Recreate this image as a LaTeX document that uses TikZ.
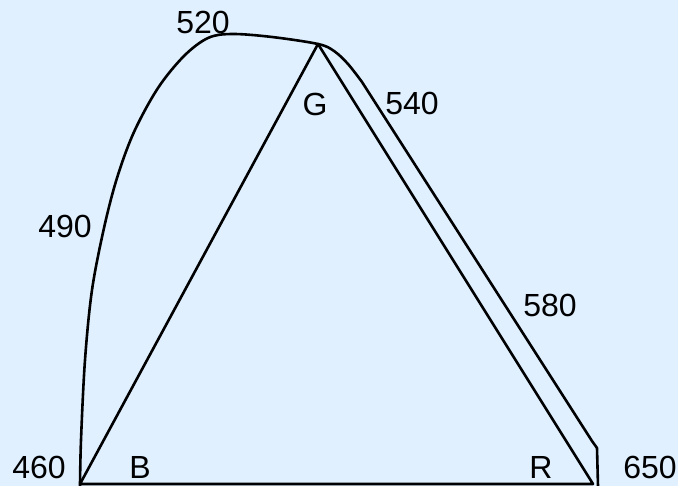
\documentclass[tikz,border=0pt]{standalone}
\usepackage{fontspec}
\setmainfont{Liberation Sans}
\definecolor{skybg}{RGB}{224, 240, 255}
\usetikzlibrary{positioning}

\begin{document}
\begin{tikzpicture}[
    x=1pt, y=-1pt,
    edge/.style={line width=2.6pt, black, line join=round},
    lbl/.style={font=\fontsize{32}{34}\selectfont, inner sep=0pt},
  ]
  \fill[skybg] (0,0) rectangle (678,486);
  \useasboundingbox (0,0) rectangle (678,486);

  % primaries
  \coordinate (B) at (80,484);
  \coordinate (G) at (318,44);
  \coordinate (R) at (593,484);
  \coordinate (w460) at (80,486);
  \coordinate (w620) at (592,441);
  \coordinate (w650) at (598,486);

  \draw[edge] (B) -- (G) -- (R) -- (B);

  % spectral locus
  \draw[edge] plot[smooth, tension=0.55] coordinates {
      (w460) (81,440) (85,360) (92,290) (104,228) (117,178) (134,132)
      (158,88) (184,56) (208,38) (232,34) (272,37) (G) (334,51) (348,64) (362,82)}
    -- (w620) -- (597,448) -- (w650);

  \node[lbl] (l460) at (39,467) {460};
  \node[lbl] (l490) at (65,226) {490};
  \node[lbl] (l520) at (203,22) {520};
  \node[lbl] (l540) at (412,103) {540};
  \node[lbl] (l580) at (550,305) {580};
  \node[lbl] (l650) at (650,467) {650};
  \node[lbl] (lB) at (140,467) {B};
  \node[lbl] (lG) at (315,104) {G};
  \node[lbl] (lR) at (541,467) {R};
\end{tikzpicture}
\end{document}
